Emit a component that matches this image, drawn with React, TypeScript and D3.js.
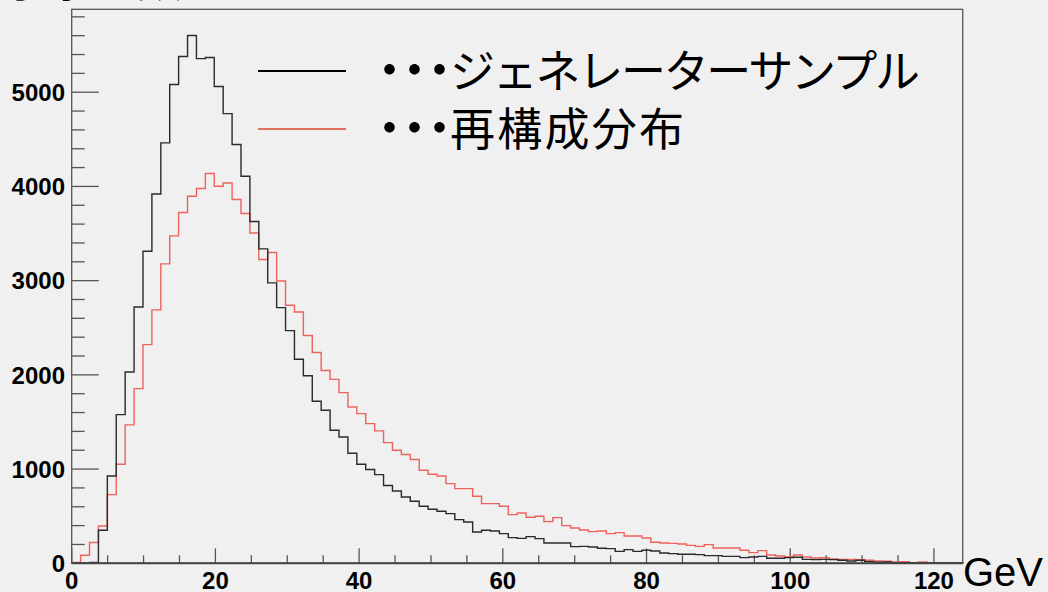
import React, { useRef, useEffect } from "react";
import * as d3 from "d3";

// bins: 100 bins over 0..124 GeV
const binLo = 0;
const binHi = 124;

// generator sample counts per bin
const genCounts = [
  0, 0, 10, 350, 927, 1578, 2031, 2721, 3312, 3920,
  4462, 5082, 5379, 5602, 5357, 5368, 5061, 4773, 4445, 4108,
  3627, 3337, 2976, 2714, 2470, 2166, 1990, 1720, 1624, 1412,
  1341, 1168, 1051, 995, 941, 825, 768, 704, 658, 605,
  573, 552, 527, 464, 439, 333, 350, 343, 315, 272,
  265, 283, 262, 216, 216, 216, 177, 180, 173, 159,
  156, 127, 145, 127, 138, 131, 110, 103, 96, 96,
  92, 81, 81, 74, 74, 60, 67, 74, 53, 53,
  60, 64, 42, 39, 42, 39, 32, 25, 32, 18,
  11, 14, 7, 7, 5, 4, 5, 3, 4, 3,
];

// reconstructed distribution counts per bin
const recoCounts = [
  8, 85, 220, 396, 729, 1051, 1469, 1854, 2321, 2690,
  3178, 3475, 3723, 3896, 3978, 4137, 4002, 4037, 3861, 3712,
  3506, 3224, 3298, 2997, 2739, 2668, 2418, 2237, 2046, 1952,
  1812, 1659, 1589, 1483, 1405, 1281, 1200, 1154, 1101, 987,
  945, 927, 846, 793, 793, 711, 633, 633, 605, 517,
  534, 488, 499, 442, 485, 400, 375, 354, 336, 343,
  315, 326, 290, 290, 269, 223, 216, 212, 205, 190,
  180, 198, 163, 163, 163, 138, 113, 134, 88, 78,
  71, 88, 67, 57, 60, 46, 42, 42, 39, 32,
  25, 21, 14, 18, 4, 14, 7, 7, 7, 7,
];

const xTicks = [0, 20, 40, 60, 80, 100, 120];
const yTicks = [0, 1000, 2000, 3000, 4000, 5000];

const legendItems = [
  { label: "ジェネレーターサンプル", color: "#000000" },
  { label: "再構成分布", color: "#e0705e" },
];
const legendDots = "･･･";

const yTitle = "事象の数";
const xTitle = "GeV";

const width = 1048;
const height = 592;
const left = 71.7;
const right = 962.7;
const top = 9.3;
const bottom = 563.3;

const App = () => {
  const wrapper = useRef(null);

  useEffect(() => {
    const root = d3.select(wrapper.current);
    root.selectAll("*").remove();

    const svg = root
      .append("svg")
      .attr("width", width)
      .attr("height", height)
      .style("position", "absolute")
      .style("left", 0)
      .style("top", 0)
      .style("background", "#f0f0f0");

    const x = d3.scaleLinear().domain([binLo, binHi]).range([left, right]);
    const y = d3.scaleLinear().domain([0, 5880]).range([bottom, top]);
    const bw = (binHi - binLo) / genCounts.length;

    // minor ticks
    const yMinor = d3.range(0, 5880, 200);
    svg
      .selectAll(".ymin")
      .data(yMinor)
      .enter()
      .append("line")
      .attr("x1", left)
      .attr("x2", (d) => (d % 1000 === 0 ? left + 27 : left + 13))
      .attr("y1", (d) => y(d))
      .attr("y2", (d) => y(d))
      .attr("stroke", "#555")
      .attr("stroke-width", 1.3);

    const xMinor = d3.range(0, binHi, 5);
    svg
      .selectAll(".xmin")
      .data(xMinor)
      .enter()
      .append("line")
      .attr("x1", (d) => x(d))
      .attr("x2", (d) => x(d))
      .attr("y1", bottom)
      .attr("y2", (d) => (d % 20 === 0 ? bottom - 15 : bottom - 8))
      .attr("stroke", "#555")
      .attr("stroke-width", 1.3);

    // histograms
    const stepPath = (counts) => {
      const p = d3.path();
      p.moveTo(x(binLo), y(0));
      counts.forEach((c, i) => {
        p.lineTo(x(binLo + i * bw), y(c));
        p.lineTo(x(binLo + (i + 1) * bw), y(c));
      });
      p.lineTo(x(binHi), y(0));
      return p.toString();
    };

    svg
      .append("path")
      .attr("d", stepPath(recoCounts))
      .attr("fill", "none")
      .attr("stroke", "#ee625c")
      .attr("stroke-width", 1.4);

    svg
      .append("path")
      .attr("d", stepPath(genCounts))
      .attr("fill", "none")
      .attr("stroke", "#2a2a2a")
      .attr("stroke-width", 1.4);

    // frame
    svg
      .append("rect")
      .attr("x", left)
      .attr("y", top)
      .attr("width", right - left)
      .attr("height", bottom - top)
      .attr("fill", "none")
      .attr("stroke", "#555")
      .attr("stroke-width", 1.3);
    svg
      .append("line")
      .attr("x1", left)
      .attr("x2", right)
      .attr("y1", bottom)
      .attr("y2", bottom)
      .attr("stroke", "#444")
      .attr("stroke-width", 2);

    // tick labels
    svg
      .selectAll(".ylab")
      .data(yTicks)
      .enter()
      .append("text")
      .attr("x", 65)
      .attr("y", (d) => y(d))
      .attr("dy", "0.36em")
      .attr("text-anchor", "end")
      .style("font-family", "'Liberation Sans', Arial, sans-serif")
      .style("font-weight", "bold")
      .style("font-size", "24px")
      .text((d) => d);

    svg
      .selectAll(".xlab")
      .data(xTicks)
      .enter()
      .append("text")
      .attr("x", (d) => x(d))
      .attr("y", 589)
      .attr("text-anchor", "middle")
      .style("font-family", "'Liberation Sans', Arial, sans-serif")
      .style("font-weight", "bold")
      .style("font-size", "24px")
      .text((d) => d);

    svg
      .append("text")
      .attr("x", 1043)
      .attr("y", 586)
      .attr("text-anchor", "end")
      .style("font-family", "'Liberation Sans', Arial, sans-serif")
      .style("font-size", "40px")
      .text(xTitle);

    svg
      .append("text")
      .attr("x", 2)
      .attr("y", -3)
      .style("font-family", "'Noto Sans CJK JP', sans-serif")
      .style("font-size", "45px")
      .text(yTitle);

    // legend
    const leg = svg
      .selectAll(".leg")
      .data(legendItems)
      .enter()
      .append("g")
      .attr("transform", (d, i) => `translate(0, ${71 + i * 58})`);

    leg
      .append("line")
      .attr("x1", 258)
      .attr("x2", 346)
      .attr("y1", 0)
      .attr("y2", 0)
      .attr("stroke", (d) => d.color)
      .attr("stroke-width", 2);

    leg
      .append("text")
      .attr("x", 377)
      .attr("y", 17)
      .style("font-family", "'Noto Sans CJK JP', sans-serif")
      .style("font-size", "50px")
      .style("font-weight", "900")
      .attr("fill", "#000")
      .text(legendDots);

    leg
      .append("text")
      .attr("x", 450)
      .attr("y", 17)
      .attr("textLength", (d, i) => (i === 0 ? 470 : 234))
      .attr("lengthAdjust", "spacing")
      .style("font-family", "'Noto Sans CJK JP', sans-serif")
      .style("font-size", "45px")
      .attr("fill", "#000")
      .text((d) => d.label);
  }, [wrapper]);

  return <div ref={wrapper}></div>;
};

export default App;
